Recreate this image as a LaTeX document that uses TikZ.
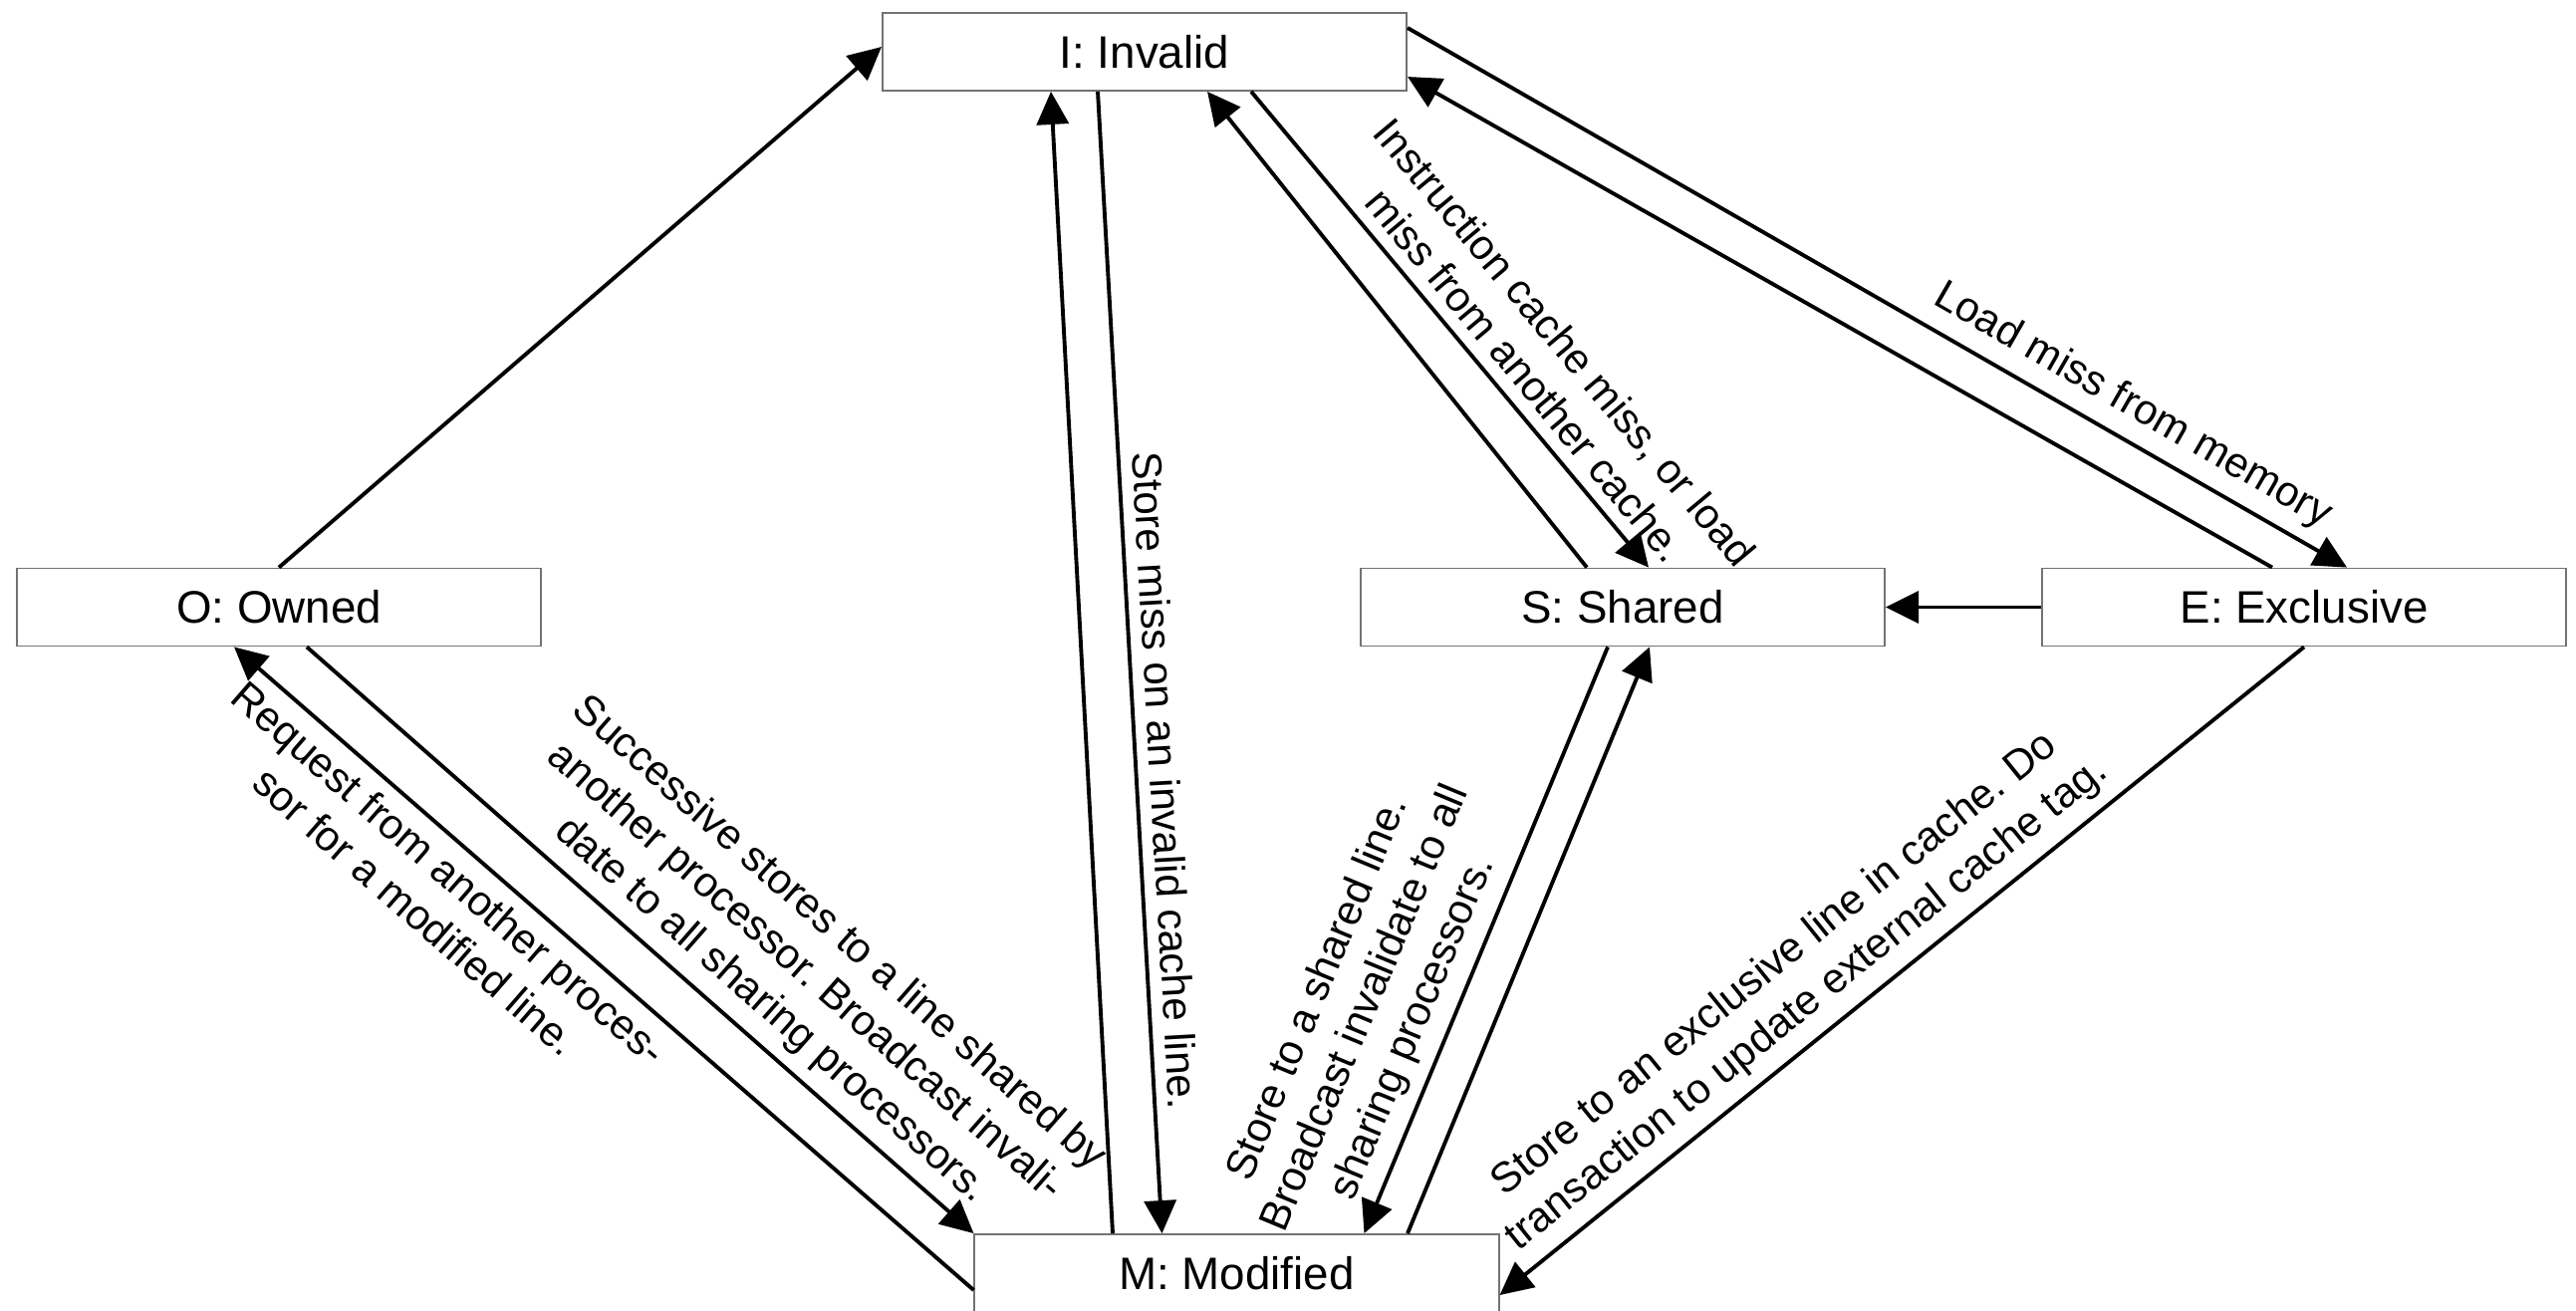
\documentclass[tikz,border=0pt]{standalone}
\usepackage{fontspec}
\setmainfont{Liberation Sans}
\usetikzlibrary{arrows.meta,calc}
\frenchspacing

\begin{document}
\begin{tikzpicture}[x=0.01cm,y=-0.01cm,
  state/.style={draw=black!55, line width=0.5pt, fill=white,
    minimum width=5.26cm, minimum height=0.78cm, inner sep=0pt,
    font=\fontsize{13}{15}\selectfont},
  trans/.style={line width=1.1pt, -{Triangle[length=0.33cm,width=0.32cm]}},
  lbl/.style={sloped, align=center, font=\fontsize{12}{14.6}\selectfont},
]
\useasboundingbox (0,0) rectangle (2586,1315);

% cache line states
\node[state] (I) at (1149,52)     {I: Invalid};
\node[state] (O) at (280,609.5)   {O: Owned};
\node[state] (S) at (1629,609.5)  {S: Shared};
\node[state] (E) at (2313,609.5)  {E: Exclusive};
\node[state] (M) at (1241.5,1278) {M: Modified};

% transitions
\draw[trans] (O.north) -- ($(I.west)+(0,-5)$);

\draw[trans] ($(I.south)+(-47,0)$) --
  node[lbl, above, pos=0.605] {Store miss on an invalid cache line.}
  ($(M.north)+(-75,0)$);
\draw[trans] ($(M.north)+(-124.5,0)$) -- ($(I.south)+(-94,0)$);

\draw[trans] ($(S.north)+(-36,0)$) -- ($(I.south)+(63,0)$);
\draw[trans] ($(I.south)+(107,0)$) --
  node[lbl, above, pos=0.635] {Instruction cache miss, or load\\miss from another cache.}
  ($(S.north)+(26,0)$);

\draw[trans] ($(E.north)+(-32,0)$) -- ($(I.east)+(0,25)$);
\draw[trans] ($(I.east)+(0,-24)$) --
  node[lbl, above, pos=0.754] {Load miss from memory}
  ($(E.north)+(43,0)$);

\draw[trans] (E.west) -- (S.east);

\draw[trans] (E.south) --
  node[lbl, above, pos=0.592] {Store to an exclusive line in cache. Do\\transaction to update external cache tag.}
  ($(M.east)+(0,22)$);

\draw[trans] ($(M.west)+(0,17)$) --
  node[lbl, below, pos=0.683] {Request from another proces-\\sor for a modified line.}
  ($(O.south)+(-45,0)$);
\draw[trans] ($(O.south)+(28,0)$) --
  node[lbl, above, pos=0.663] {Successive stores to a line shared by\\another processor. Broadcast invali-\\date to all sharing processors.}
  (M.north west);

\draw[trans] ($(S.south)+(-15,0)$) --
  node[lbl, above, pos=0.672] {Store to a shared line.\\Broadcast invalidate to all\\sharing processors.}
  ($(M.north)+(128,0)$);
\draw[trans] ($(M.north)+(171.5,0)$) -- ($(S.south)+(27,0)$);
\end{tikzpicture}
\end{document}
